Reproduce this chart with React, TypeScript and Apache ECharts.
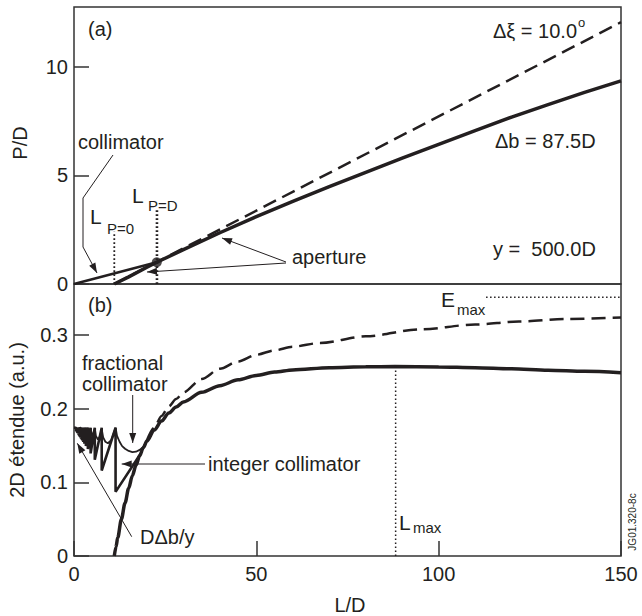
import React, { useEffect, useRef } from "react";
import * as echarts from "echarts";

// ---------- data ----------
// panel (a): P/D versus L/D
const collimatorL = [0, 22.7];
const collimatorP = [0, 1.0];
const apertureTopL = [11.05, 15, 20, 22.7, 30, 40, 50, 60, 70, 80, 90, 100, 110, 120, 130, 140, 150];
const apertureTopP = [0, 0.33, 0.77, 1.0, 1.58, 2.36, 3.1, 3.8, 4.48, 5.14, 5.79, 6.43, 7.06, 7.68, 8.26, 8.82, 9.35];
const apertureTopDashL = [11.05, 150];
const apertureTopDashP = [0, 12.05];
const LP0 = 11.05;
const LP0Top = 2.4;
const LPD = 22.75;
const LPDTop = 3.5;
const dotPoint = [22.7, 1.0];

// panel (b): 2D etendue versus L/D
const solidL = [11.05, 11.5, 12, 13, 14, 15, 16, 17, 18, 19, 20, 22, 24, 26, 28, 30, 35, 40, 45, 50, 55, 60, 70, 80, 88, 100, 110, 120, 130, 140, 150];
const solidE = [0, 0.012, 0.025, 0.05, 0.072, 0.092, 0.109, 0.123, 0.136, 0.147, 0.156, 0.171, 0.183, 0.194, 0.202, 0.209, 0.222, 0.231, 0.239, 0.245, 0.2495, 0.2525, 0.2555, 0.2567, 0.257, 0.2565, 0.2555, 0.254, 0.252, 0.2505, 0.2485];
const dashL = [20, 22, 24, 26, 28, 30, 35, 40, 45, 50, 55, 60, 67.5, 80, 95, 110, 122, 135, 150];
const dashE = [0.157, 0.174, 0.19, 0.203, 0.213, 0.222, 0.24, 0.254, 0.264, 0.273, 0.279, 0.284, 0.289, 0.298, 0.3075, 0.314, 0.318, 0.3215, 0.3235];
const fracL = [0, 1.0, 1.9, 2.0, 2.07, 2.17, 2.28, 2.4, 2.53, 2.68, 2.85, 3.04, 3.26, 3.5, 3.8, 4.1, 4.56, 5.0, 5.7, 6.0, 6.55, 7.1, 7.6, 8.0, 8.6, 9.3, 10.2, 11.4, 11.8, 12.5, 13.2, 14, 15, 16, 17, 18, 19, 20];
const fracE = [0.174, 0.173, 0.174, 0.1715, 0.174, 0.171, 0.174, 0.1705, 0.174, 0.1695, 0.174, 0.168, 0.174, 0.1665, 0.174, 0.164, 0.1735, 0.1615, 0.173, 0.163, 0.158, 0.162, 0.172, 0.161, 0.155, 0.153, 0.157, 0.174, 0.163, 0.155, 0.149, 0.1455, 0.1425, 0.141, 0.1415, 0.144, 0.148, 0.156];
const intL = [0, 0.57, 0.57, 0.71, 0.71, 0.84, 0.84, 0.95, 0.95, 1.09, 1.09, 1.2, 1.2, 1.34, 1.34, 1.425, 1.425, 1.52, 1.52, 1.63, 1.63, 1.75, 1.75, 1.9, 1.9, 2.07, 2.07, 2.28, 2.28, 2.53, 2.53, 2.85, 2.85, 3.26, 3.26, 3.8, 3.8, 4.56, 4.56, 5.7, 5.7, 7.6, 7.6, 11.4, 11.4, 18.3];
const intE = [0.174, 0.174, 0.1697, 0.174, 0.1686, 0.174, 0.1676, 0.174, 0.1668, 0.174, 0.1657, 0.174, 0.1648, 0.174, 0.1638, 0.174, 0.1631, 0.174, 0.1624, 0.174, 0.1616, 0.174, 0.1606, 0.174, 0.1595, 0.174, 0.1582, 0.174, 0.1566, 0.174, 0.1547, 0.174, 0.1523, 0.174, 0.1491, 0.174, 0.145, 0.174, 0.1392, 0.174, 0.1305, 0.174, 0.116, 0.174, 0.087, 0.139];
const Emax = 0.351;
const EmaxFrom = 113;
const Lmax = 88.2;
const LmaxTop = 0.257;

const xTicks = [0, 50, 100, 150];
const topYMax = 12.75;
const botYMax = 0.369;

// ---------- helpers ----------
const FONT = '"Liberation Sans", Arial, Helvetica, sans-serif';
const INK = "#231f20";
const zip = (a: number[], b: number[]) => a.map((v, i) => [v, b[i]]);

function txt(x: number, y: number, text: string, size = 20, align = "left", extra: any = {}) {
  return {
    type: "text",
    x,
    y,
    z: 50,
    ...extra,
    style: {
      text,
      fontSize: size,
      fontFamily: FONT,
      fill: INK,
      align,
      verticalAlign: "middle",
      textAlign: align,
      textVerticalAlign: "middle",
    },
  };
}

function head(x1: number, y1: number, x2: number, y2: number, len = 10, w = 3.5) {
  const dx = x2 - x1;
  const dy = y2 - y1;
  const d = Math.hypot(dx, dy);
  const ux = dx / d;
  const uy = dy / d;
  const bx = x2 - ux * len;
  const by = y2 - uy * len;
  return {
    type: "polygon",
    z: 50,
    shape: { points: [[x2, y2], [bx - uy * w, by + ux * w], [bx + uy * w, by - ux * w]] },
    style: { fill: INK },
  };
}

function arrow(pts: number[][]) {
  const n = pts.length;
  return [
    { type: "polyline", z: 50, shape: { points: pts }, style: { stroke: INK, lineWidth: 1, fill: null } },
    head(pts[n - 2][0], pts[n - 2][1], pts[n - 1][0], pts[n - 1][1]),
  ];
}

function line(name: string, data: number[][], grid: number, width: number, type: any = "solid", smooth: any = false) {
  return {
    name,
    type: "line",
    xAxisIndex: grid,
    yAxisIndex: grid,
    data,
    symbol: "none",
    smooth,
    smoothMonotone: "x",
    lineStyle: { color: INK, width, type, cap: "butt" },
    silent: true,
  };
}

const axisTick = { show: true, inside: true, length: 15, lineStyle: { color: "#333", width: 1.5 } };
const axisLabel = { color: INK, fontSize: 20, fontFamily: FONT };

export default function App() {
  const ref = useRef<HTMLDivElement>(null);
  useEffect(() => {
    if (!ref.current) return;
    const chart = echarts.init(ref.current, null, { renderer: "svg" });
    const option: any = {
      animation: false,
      backgroundColor: "#fff",
      grid: [
        { left: 74, top: 7, width: 547, height: 277, show: true, borderColor: "#333", borderWidth: 1.5, backgroundColor: "transparent" },
        { left: 74, top: 284, width: 547, height: 272, show: true, borderColor: "#333", borderWidth: 1.5, backgroundColor: "transparent" },
      ],
      xAxis: [
        { type: "value", gridIndex: 0, min: 0, max: 150, interval: 50, axisLine: { show: false }, axisTick: { show: false }, axisLabel: { show: false }, splitLine: { show: false } },
        {
          type: "value", gridIndex: 1, min: xTicks[0], max: xTicks[xTicks.length - 1], interval: 50,
          axisLine: { show: false }, axisTick, splitLine: { show: false },
          axisLabel: { ...axisLabel, margin: 8 },
        },
      ],
      yAxis: [
        {
          type: "value", gridIndex: 0, min: 0, max: topYMax, interval: 5,
          axisLine: { show: false }, axisTick, splitLine: { show: false },
          axisLabel: { ...axisLabel, margin: 6, showMaxLabel: false },
        },
        {
          type: "value", gridIndex: 1, min: 0, max: botYMax, interval: 0.1,
          axisLine: { show: false }, axisTick, splitLine: { show: false },
          axisLabel: { ...axisLabel, margin: 6, showMaxLabel: false, formatter: (v: number) => (v === 0 ? "0" : v.toFixed(1)) },
        },
      ],
      series: [
        // panel (a)
        line("aperture dashed", zip(apertureTopDashL, apertureTopDashP), 0, 2.5, [14, 7]),
        line("aperture", zip(apertureTopL, apertureTopP), 0, 3.5),
        line("collimator", zip(collimatorL, collimatorP), 0, 2.5),
        line("L P=0", [[LP0, 0], [LP0, LP0Top]], 0, 1.8, [1.8, 2.2]),
        line("L P=D", [[LPD, 0], [LPD, LPDTop]], 0, 2.6, [1.8, 2.2]),
        {
          type: "scatter", xAxisIndex: 0, yAxisIndex: 0, data: [dotPoint], symbol: "circle", symbolSize: 10,
          itemStyle: { color: INK }, silent: true, z: 5,
        },
        // panel (b)
        line("dashed", zip(dashL, dashE), 1, 2.5, [14, 7], 0.3),
        line("solid", zip(solidL, solidE), 1, 3.5, "solid", 0.3),
        line("fractional", zip(fracL, fracE), 1, 1.8),
        line("integer", zip(intL, intE), 1, 2.6),
        line("Emax", [[EmaxFrom, Emax], [150, Emax]], 1, 1.5, [1.5, 2.5]),
        line("Lmax", [[Lmax, 0], [Lmax, LmaxTop]], 1, 1.5, [1.5, 2.5]),
      ],
      graphic: [
        txt(20, 143, "P/D", 20, "center", { rotation: Math.PI / 2 }),
        txt(17, 420, "2D étendue (a.u.)", 20, "center", { rotation: Math.PI / 2 }),
        txt(350, 605, "L/D", 20, "center"),
        txt(632, 522, "JG01.320-8c", 10, "center", { rotation: Math.PI / 2 }),
        // panel (a)
        txt(88, 29, "(a)"),
        txt(493, 31, "Δξ = 10.0"),
        txt(578, 22, "o", 13),
        txt(495, 141, "Δb = 87.5D"),
        txt(493, 249, "y =  500.0D"),
        txt(292, 257, "aperture"),
        txt(78, 142, "collimator"),
        txt(90, 216, "L", 21),
        txt(107, 228, "P=0", 15),
        txt(132, 195, "L", 21),
        txt(148, 205, "P=D", 15),
        ...arrow([[113, 155], [83, 198], [83, 247], [97, 273]]),
        ...arrow([[286, 262], [222, 238]]),
        ...arrow([[286, 263], [147, 272]]),
        // panel (b)
        txt(88, 305, "(b)"),
        txt(82, 363, "fractional"),
        txt(82, 384, "collimator"),
        txt(208, 464, "integer collimator"),
        txt(140, 537, "DΔb/y"),
        txt(441, 299, "E", 21),
        txt(457, 309, "max", 15),
        txt(399, 522, "L", 21),
        txt(413, 527, "max", 15),
        ...arrow([[132.7, 395], [132.7, 443]]),
        ...arrow([[205, 464], [121.7, 464]]),
        ...arrow([[131.7, 536.7], [77.3, 443.3]]),
      ],
    };
    chart.setOption(option);
    return () => chart.dispose();
  }, []);
  return <div ref={ref} style={{ position: "absolute", left: 0, top: 0, width: 642, height: 616 }} />;
}
